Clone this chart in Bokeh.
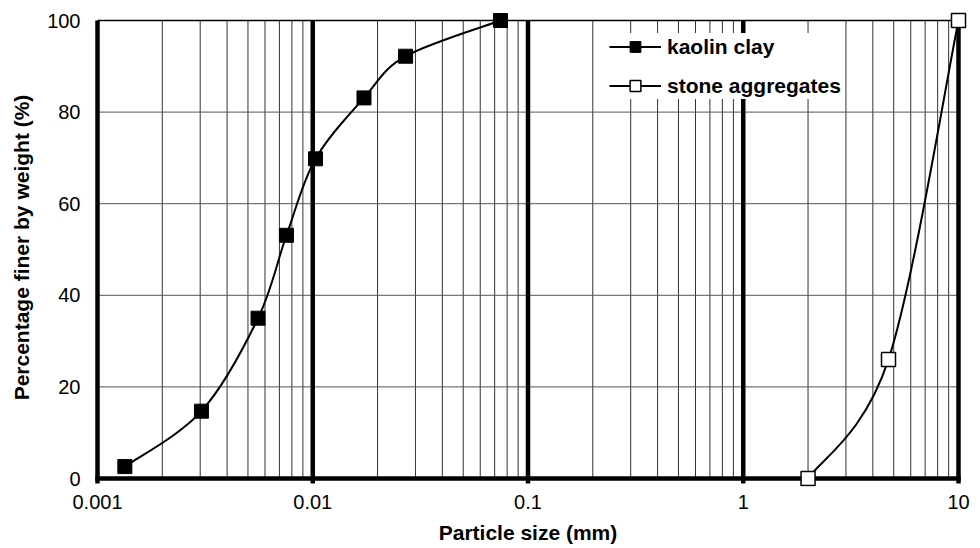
import numpy as np
from bokeh.plotting import figure
from bokeh.models import (Range1d, FixedTicker, CustomJSTickFormatter, Legend,
                          LegendItem, ColumnDataSource)
from bokeh.embed import file_html
from bokeh.resources import INLINE

# ---- data ----
kaolin_size = [0.00134, 0.00304, 0.00557, 0.00755, 0.0103, 0.0173, 0.027, 0.0745]
kaolin_pct = [2.6, 14.7, 35.0, 53.1, 69.8, 83.1, 92.2, 100.0]
stone_size = [2.0, 4.73, 10.0]
stone_pct = [0.0, 26.0, 100.0]
x_ticks = [0.001, 0.01, 0.1, 1, 10]
y_ticks = [0, 20, 40, 60, 80, 100]
series_names = ["kaolin clay", "stone aggregates"]

FONT = "Liberation Sans"

# ---- layout (pixels) ----
W, H = 980, 548
B_LEFT, B_RIGHT, B_TOP, B_BOTTOM = 85, 10, 8, 62
PAD_L, PAD_R, PAD_T, PAD_B = 12, 12, 12, 8   # room so edge markers are not clipped
TICK_PX = 5

frame_w = W - B_LEFT - B_RIGHT
frame_h = H - B_TOP - B_BOTTOM
lx0, lx1 = np.log10(x_ticks[0]), np.log10(x_ticks[-1])
px_dec = (frame_w - PAD_L - PAD_R) / (lx1 - lx0)
px_unit = (frame_h - PAD_T - PAD_B) / (y_ticks[-1] - y_ticks[0])
x_range = Range1d(10 ** (lx0 - PAD_L / px_dec), 10 ** (lx1 + PAD_R / px_dec))
y_range = Range1d(y_ticks[0] - PAD_B / px_unit, y_ticks[-1] + PAD_T / px_unit)


def smooth_segments(xs, ys):
    """Excel-style smoothed line: cubic Bezier segments in (log10 x, y) space."""
    P = np.column_stack([np.log10(np.asarray(xs, float)), np.asarray(ys, float)])
    ext = np.vstack([P[0], P, P[-1]])
    cols = {k: [] for k in ["x0", "y0", "x1", "y1", "cx0", "cy0", "cx1", "cy1"]}
    for i in range(len(P) - 1):
        p0, p1, p2, p3 = ext[i], ext[i + 1], ext[i + 2], ext[i + 3]
        c1 = p1 + (p2 - p0) / 6.0
        c2 = p2 - (p3 - p1) / 6.0
        cols["x0"].append(10 ** p1[0]); cols["y0"].append(p1[1])
        cols["x1"].append(10 ** p2[0]); cols["y1"].append(p2[1])
        cols["cx0"].append(10 ** c1[0]); cols["cy0"].append(c1[1])
        cols["cx1"].append(10 ** c2[0]); cols["cy1"].append(c2[1])
    return ColumnDataSource(cols)


p = figure(width=W, height=H, x_axis_type="log", x_range=x_range, y_range=y_range,
           output_backend="svg", toolbar_location=None,
           min_border_left=B_LEFT, min_border_right=B_RIGHT,
           min_border_top=B_TOP, min_border_bottom=B_BOTTOM)
p.outline_line_color = None
p.background_fill_color = "white"
p.xgrid.visible = False
p.ygrid.visible = False

minor = [m * 10.0 ** k for k in range(int(lx0), int(lx1)) for m in range(2, 10)]
p.xaxis.ticker = FixedTicker(ticks=x_ticks, minor_ticks=[])
p.xaxis.formatter = CustomJSTickFormatter(code="return String(Number(tick.toPrecision(6)));")
p.yaxis.ticker = FixedTicker(ticks=y_ticks, minor_ticks=[])

for ax in (p.xaxis[0], p.yaxis[0]):
    ax.axis_line_color = None
    ax.major_tick_line_color = None
    ax.minor_tick_line_color = None
    ax.major_tick_out = 0
    ax.major_tick_in = 0
    ax.major_label_text_font = FONT
    ax.major_label_text_font_size = "20px"
    ax.major_label_text_color = "black"
    ax.axis_label_text_font = FONT
    ax.axis_label_text_font_size = "21px"
    ax.axis_label_text_font_style = "bold"
    ax.axis_label_text_color = "black"

p.xaxis.major_label_standoff = 8
p.xaxis.axis_label_standoff = 9
p.xaxis.axis_label = "Particle size (mm)"
p.yaxis.major_label_standoff = 5
p.yaxis.axis_label_standoff = 11
p.yaxis.axis_label = "Percentage finer by weight (%)"

y_lo, y_hi = y_ticks[0], y_ticks[-1]
x_lo, x_hi = x_ticks[0], x_ticks[-1]
tick_ext = TICK_PX / px_unit

# minor vertical grid lines
p.segment(x0=minor, y0=[y_lo] * len(minor), x1=minor, y1=[y_hi] * len(minor),
          line_color="#333333", line_width=1)
# horizontal grid lines
inner_y = y_ticks[1:-1]
p.segment(x0=[x_lo] * len(inner_y), y0=inner_y, x1=[x_hi] * len(inner_y), y1=inner_y,
          line_color="#555555", line_width=1)
p.segment(x0=[x_lo], y0=[y_hi], x1=[x_hi], y1=[y_hi], line_color="black", line_width=1.6)
# decade lines (incl. left axis and right border), with tick below the axis
p.segment(x0=x_ticks, y0=[y_lo - tick_ext] * len(x_ticks), x1=x_ticks, y1=[y_hi] * len(x_ticks),
          line_color="black", line_width=4.5)
# bottom axis line
p.segment(x0=[x_lo], y0=[y_lo], x1=[x_hi], y1=[y_lo], line_color="black", line_width=4.5,
          line_cap="square")

# curves
p.bezier("x0", "y0", "x1", "y1", "cx0", "cy0", "cx1", "cy1",
         source=smooth_segments(kaolin_size, kaolin_pct), line_color="black", line_width=2)
p.bezier("x0", "y0", "x1", "y1", "cx0", "cy0", "cx1", "cy1",
         source=smooth_segments(stone_size, stone_pct), line_color="black", line_width=2)

k_pts = p.scatter(kaolin_size, kaolin_pct, marker="square", size=14,
                  fill_color="black", line_color="black", line_width=1)
s_pts = p.scatter(stone_size, stone_pct, marker="square", size=14,
                  fill_color="white", line_color="black", line_width=1.5)

# legend-only line renderers
k_leg = p.line([np.nan], [np.nan], line_color="black", line_width=2)
s_leg = p.line([np.nan], [np.nan], line_color="black", line_width=2)

legend = Legend(items=[LegendItem(label=series_names[0], renderers=[k_leg, k_pts]),
                       LegendItem(label=series_names[1], renderers=[s_leg, s_pts])],
                location=(524, 387), margin=0, padding=8, spacing=12,
                glyph_width=52, glyph_height=27, label_height=24, label_standoff=6,
                label_text_font=FONT, label_text_font_size="21px",
                label_text_font_style="bold", label_text_color="black",
                background_fill_color="white", background_fill_alpha=1.0,
                border_line_color=None)
p.add_layout(legend, "center")

open("out.html", "w").write(file_html(p, INLINE))
